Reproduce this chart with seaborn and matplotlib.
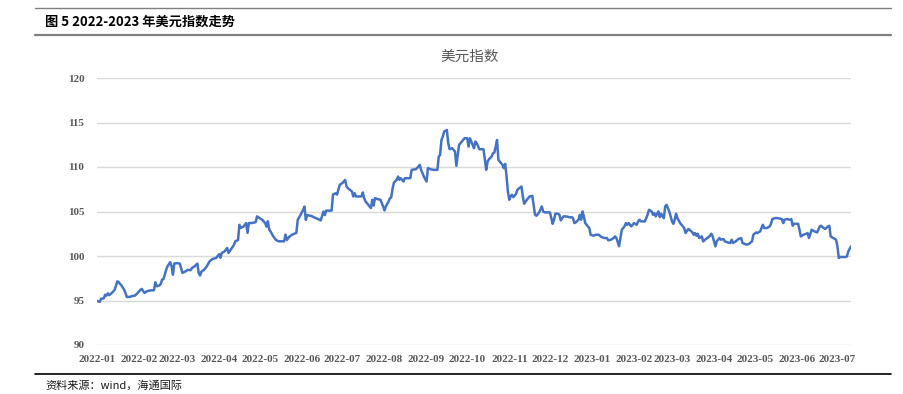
import pandas as pd
import matplotlib
matplotlib.use("Agg")
import matplotlib.pyplot as plt
import matplotlib.dates as mdates
from matplotlib.lines import Line2D
import seaborn as sns

# ---------------------------------------------------------------
# 美元指数 daily values
dates_2022 = [
    "2022-01-01", "2022-01-03", "2022-01-04", "2022-01-06", "2022-01-07", "2022-01-08",
    "2022-01-09", "2022-01-10", "2022-01-12", "2022-01-14", "2022-01-16", "2022-01-17",
    "2022-01-19", "2022-01-21", "2022-01-22", "2022-01-23", "2022-01-25", "2022-01-27",
    "2022-01-29", "2022-01-31", "2022-02-02", "2022-02-03", "2022-02-05", "2022-02-07",
    "2022-02-10", "2022-02-12", "2022-02-13", "2022-02-14", "2022-02-16", "2022-02-17",
    "2022-02-18", "2022-02-19", "2022-02-21", "2022-02-22", "2022-02-24", "2022-02-25",
    "2022-02-26", "2022-02-27", "2022-03-01", "2022-03-03", "2022-03-04", "2022-03-05",
    "2022-03-07", "2022-03-09", "2022-03-11", "2022-03-12", "2022-03-14", "2022-03-16",
    "2022-03-17", "2022-03-18", "2022-03-19", "2022-03-21", "2022-03-23", "2022-03-25",
    "2022-03-27", "2022-03-30", "2022-04-01", "2022-04-02", "2022-04-03", "2022-04-05",
    "2022-04-06", "2022-04-07", "2022-04-08", "2022-04-10", "2022-04-12", "2022-04-13",
    "2022-04-15", "2022-04-16", "2022-04-17", "2022-04-19", "2022-04-20", "2022-04-21",
    "2022-04-22", "2022-04-23", "2022-04-25", "2022-04-28", "2022-04-29", "2022-05-01",
    "2022-05-03", "2022-05-05", "2022-05-06", "2022-05-07", "2022-05-08", "2022-05-09",
    "2022-05-11", "2022-05-13", "2022-05-15", "2022-05-17", "2022-05-19", "2022-05-20",
    "2022-05-21", "2022-05-23", "2022-05-25", "2022-05-28", "2022-05-29", "2022-05-31",
    "2022-06-02", "2022-06-03", "2022-06-04", "2022-06-05", "2022-06-08", "2022-06-10",
    "2022-06-13", "2022-06-15", "2022-06-17", "2022-06-18", "2022-06-19", "2022-06-23",
    "2022-06-24", "2022-06-26", "2022-06-27", "2022-06-29", "2022-07-01", "2022-07-03",
    "2022-07-04", "2022-07-05", "2022-07-08", "2022-07-09", "2022-07-10", "2022-07-11",
    "2022-07-13", "2022-07-15", "2022-07-16", "2022-07-17", "2022-07-18", "2022-07-20",
    "2022-07-22", "2022-07-23", "2022-07-24", "2022-07-25", "2022-07-27", "2022-07-29",
    "2022-07-31", "2022-08-01", "2022-08-02", "2022-08-04", "2022-08-05", "2022-08-06",
    "2022-08-07", "2022-08-08", "2022-08-10", "2022-08-11", "2022-08-12", "2022-08-13",
    "2022-08-15", "2022-08-16", "2022-08-18", "2022-08-20", "2022-08-21", "2022-08-24",
    "2022-08-25", "2022-08-27", "2022-08-28", "2022-08-29", "2022-08-30", "2022-09-01",
    "2022-09-02", "2022-09-04", "2022-09-06", "2022-09-09", "2022-09-10", "2022-09-11",
    "2022-09-12", "2022-09-13", "2022-09-14", "2022-09-16", "2022-09-17", "2022-09-18",
    "2022-09-20", "2022-09-22", "2022-09-23", "2022-09-25", "2022-09-27", "2022-09-28",
    "2022-09-29", "2022-10-01", "2022-10-02", "2022-10-03", "2022-10-04", "2022-10-05",
    "2022-10-06", "2022-10-07", "2022-10-08", "2022-10-10", "2022-10-11", "2022-10-13",
    "2022-10-14", "2022-10-15", "2022-10-16", "2022-10-17", "2022-10-19", "2022-10-20",
    "2022-10-21", "2022-10-22", "2022-10-23", "2022-10-24", "2022-10-25", "2022-10-27",
    "2022-10-28", "2022-10-29", "2022-10-30", "2022-10-31", "2022-11-01", "2022-11-02",
    "2022-11-03", "2022-11-04", "2022-11-06", "2022-11-07", "2022-11-10", "2022-11-11",
    "2022-11-12", "2022-11-14", "2022-11-16", "2022-11-18", "2022-11-20", "2022-11-21",
    "2022-11-23", "2022-11-25", "2022-11-26", "2022-11-27", "2022-11-30", "2022-12-01",
    "2022-12-03", "2022-12-04", "2022-12-05", "2022-12-07", "2022-12-08", "2022-12-09",
    "2022-12-11", "2022-12-13", "2022-12-16", "2022-12-17", "2022-12-18", "2022-12-19",
    "2022-12-20", "2022-12-22", "2022-12-23", "2022-12-24", "2022-12-25", "2022-12-26",
    "2022-12-27", "2022-12-28", "2022-12-30", "2022-12-31",
]
values_2022 = [
    94.95, 94.85, 95.20, 95.25, 95.65, 95.55,
    95.80, 95.60, 95.85, 96.20, 97.15, 97.05,
    96.70, 96.20, 95.85, 95.40, 95.40, 95.50,
    95.55, 95.85, 96.20, 96.30, 95.85, 96.05,
    96.15, 96.15, 97.05, 96.60, 96.70, 96.85,
    97.35, 97.40, 98.45, 98.85, 99.30, 98.85,
    97.90, 99.15, 99.20, 99.15, 98.65, 98.10,
    98.25, 98.45, 98.40, 98.65, 98.85, 99.15,
    98.10, 97.80, 98.25, 98.45, 98.85, 99.40,
    99.65, 99.80, 100.20, 99.80, 100.35, 100.50,
    100.70, 100.90, 100.35, 100.80, 101.25, 101.65,
    101.80, 103.50, 103.15, 103.30, 103.50, 103.70,
    102.60, 103.70, 103.70, 103.80, 104.45, 104.25,
    104.05, 103.70, 103.30, 103.90, 102.95, 102.75,
    102.20, 101.80, 101.65, 101.65, 101.65, 102.40,
    101.80, 102.20, 102.40, 102.60, 104.05, 104.60,
    105.20, 105.55, 104.05, 104.60, 104.50, 104.35,
    104.15, 104.00, 105.00, 104.60, 105.10, 105.10,
    106.90, 107.05, 106.90, 108.00, 108.20, 108.55,
    107.81, 107.62, 107.25, 106.69, 107.06, 106.69,
    106.69, 106.69, 107.14, 106.50, 106.13, 105.75,
    105.38, 106.32, 105.68, 106.50, 106.39, 106.32,
    105.57, 105.12, 105.57, 106.13, 106.50, 106.61,
    107.62, 108.26, 108.56, 108.93, 108.56, 108.74,
    108.37, 108.74, 108.74, 108.74, 109.68, 109.75,
    109.87, 110.24, 109.68, 109.31, 108.93, 108.37,
    109.87, 109.75, 109.68, 109.68, 111.17, 111.36,
    113.04, 113.42, 113.98, 114.16, 112.67, 112.00,
    112.11, 111.73, 110.13, 112.48, 112.86, 113.04,
    113.23, 113.23, 112.29, 113.23, 112.86, 112.48,
    112.11, 112.86, 112.67, 112.00, 112.00, 112.00,
    110.80, 109.68, 110.61, 110.87, 111.17, 111.55,
    111.62, 112.29, 113.04, 110.80, 110.61, 110.24,
    109.87, 110.35, 108.93, 107.25, 106.32, 106.69,
    106.88, 106.61, 106.99, 107.44, 107.81, 106.69,
    105.87, 106.32, 106.69, 106.76, 104.63, 104.52,
    104.90, 105.57, 105.01, 104.90, 104.90, 104.90,
    103.62, 104.07, 104.75, 104.75, 104.63, 104.00,
    104.45, 104.45, 104.33, 104.37, 104.26, 103.70,
    103.77, 104.07, 104.63, 104.07, 105.01, 104.45,
    103.70, 103.51, 103.14, 102.39,
]

dates_2023 = [
    "2023-01-02", "2023-01-04", "2023-01-06", "2023-01-08", "2023-01-10", "2023-01-12",
    "2023-01-13", "2023-01-15", "2023-01-17", "2023-01-18", "2023-01-19", "2023-01-21",
    "2023-01-22", "2023-01-23", "2023-01-25", "2023-01-26", "2023-01-27", "2023-01-28",
    "2023-01-30", "2023-01-31", "2023-02-01", "2023-02-03", "2023-02-04", "2023-02-05",
    "2023-02-06", "2023-02-09", "2023-02-10", "2023-02-11", "2023-02-12", "2023-02-14",
    "2023-02-15", "2023-02-16", "2023-02-17", "2023-02-19", "2023-02-20", "2023-02-21",
    "2023-02-22", "2023-02-23", "2023-02-24", "2023-02-25", "2023-02-27", "2023-02-28",
    "2023-03-01", "2023-03-02", "2023-03-03", "2023-03-04", "2023-03-05", "2023-03-07",
    "2023-03-09", "2023-03-10", "2023-03-11", "2023-03-13", "2023-03-14", "2023-03-16",
    "2023-03-17", "2023-03-18", "2023-03-19", "2023-03-20", "2023-03-21", "2023-03-23",
    "2023-03-24", "2023-03-26", "2023-03-28", "2023-03-29", "2023-03-30", "2023-03-31",
    "2023-04-01", "2023-04-02", "2023-04-03", "2023-04-04", "2023-04-05", "2023-04-06",
    "2023-04-08", "2023-04-09", "2023-04-11", "2023-04-13", "2023-04-14", "2023-04-15",
    "2023-04-17", "2023-04-19", "2023-04-21", "2023-04-22", "2023-04-25", "2023-04-27",
    "2023-04-28", "2023-04-29", "2023-04-30", "2023-05-02", "2023-05-03", "2023-05-05",
    "2023-05-06", "2023-05-07", "2023-05-08", "2023-05-10", "2023-05-12", "2023-05-13",
    "2023-05-14", "2023-05-16", "2023-05-18", "2023-05-21", "2023-05-22", "2023-05-23",
    "2023-05-25", "2023-05-27", "2023-05-28", "2023-05-29", "2023-05-30", "2023-06-02",
    "2023-06-03", "2023-06-04", "2023-06-06", "2023-06-08", "2023-06-09", "2023-06-10",
    "2023-06-11", "2023-06-12", "2023-06-14", "2023-06-16", "2023-06-18", "2023-06-19",
    "2023-06-20", "2023-06-22", "2023-06-24", "2023-06-25", "2023-06-26", "2023-06-28",
    "2023-06-30", "2023-07-01", "2023-07-02", "2023-07-03", "2023-07-05", "2023-07-07",
    "2023-07-08", "2023-07-09", "2023-07-11",
]
values_2023 = [
    102.28, 102.39, 102.39, 102.13, 102.02, 102.02,
    101.76, 101.83, 102.02, 102.20, 102.02, 101.10,
    102.02, 102.95, 103.33, 103.70, 103.51, 103.70,
    103.33, 103.51, 103.70, 103.51, 103.89, 104.07,
    103.89, 103.89, 104.26, 104.63, 105.19, 105.01,
    104.63, 104.82, 104.45, 105.01, 104.37, 104.75,
    104.45, 104.26, 105.57, 105.75, 105.01, 104.45,
    103.89, 103.62, 104.07, 104.75, 104.26, 103.70,
    103.33, 103.14, 102.58, 103.03, 102.95, 102.65,
    102.39, 102.58, 102.28, 102.50, 102.02, 102.20,
    101.64, 101.91, 102.13, 102.28, 102.50, 102.20,
    101.64, 101.08, 101.64, 101.83, 102.02, 101.83,
    101.91, 101.64, 101.53, 101.46, 101.83, 101.46,
    101.64, 101.91, 102.02, 101.46, 101.27, 101.38,
    101.53, 101.64, 102.39, 102.65, 102.58, 102.77,
    103.14, 103.51, 103.14, 103.14, 103.33, 103.62,
    104.15, 104.26, 104.26, 104.15, 103.70, 104.07,
    104.15, 104.07, 104.15, 103.40, 103.62, 103.62,
    102.95, 102.20, 102.39, 102.50, 102.58, 102.02,
    102.50, 102.95, 102.77, 102.65, 103.33, 103.40,
    103.25, 103.03, 103.33, 103.40, 102.20, 102.02,
    101.83, 101.08, 99.78, 99.89, 99.89, 99.89,
    99.96, 100.52, 101.08,
]

y_ticks = [90, 95, 100, 105, 110, 115, 120]
# ---------------------------------------------------------------

df = pd.DataFrame({
    "date": pd.to_datetime(dates_2022 + dates_2023),
    "value": values_2022 + values_2023,
})

sns.set_theme(style="white")
plt.rcParams["font.family"] = ["Noto Sans CJK SC", "DejaVu Sans"]

fig = plt.figure(figsize=(9.04, 3.94), dpi=100)
ax = fig.add_axes([97 / 904, 1 - 345 / 394, (851 - 97) / 904, (345 - 78) / 394])

sns.lineplot(data=df, x="date", y="value", ax=ax, color="#4472C4", linewidth=1.8)

ax.set_ylim(90, 120)
ax.set_yticks(y_ticks)
ax.set_xlim(pd.Timestamp("2022-01-01"), pd.Timestamp("2023-07-11"))
ax.xaxis.set_major_locator(mdates.MonthLocator())
ax.xaxis.set_major_formatter(mdates.DateFormatter("%Y-%m"))
ax.set_xlabel("")
ax.set_ylabel("")
for s in ax.spines.values():
    s.set_visible(False)
ax.grid(axis="y", color="#d9d9d9", linewidth=1.0)
ax.grid(axis="x", visible=False)
ax.tick_params(axis="x", length=4, width=0.8, color="#d9d9d9", direction="out", pad=3)
ax.tick_params(axis="y", length=0, pad=9)
for lab in ax.get_xticklabels() + ax.get_yticklabels():
    lab.set_fontfamily("Liberation Serif")
    lab.set_fontsize(8)
    lab.set_color("#595959")
    lab.set_fontweight("bold")

# chart title
fig.text(470 / 904, 1 - 57 / 394, "美元指数", ha="center", va="center",
         fontsize=10.5, color="#595959")

# report frame: rules, figure caption, source
fig.add_artist(Line2D([35 / 904, 891 / 904], [1 - 7.5 / 394] * 2, color="#808080", linewidth=1.0))
fig.add_artist(Line2D([35 / 904, 891 / 904], [1 - 35 / 394] * 2, color="#808080", linewidth=1.6))
fig.add_artist(Line2D([35 / 904, 891 / 904], [1 - 374 / 394] * 2, color="#000000", linewidth=1.2))
fig.text(45 / 904, 1 - 21.5 / 394, "图 5 2022-2023 年美元指数走势", ha="left", va="center",
         fontsize=9.5, fontweight="bold", color="#000000")
fig.text(45 / 904, 1 - 385 / 394, "资料来源：wind，海通国际", ha="left", va="center",
         fontsize=8, color="#1a1a1a")

fig.savefig("out.png", dpi=100)
